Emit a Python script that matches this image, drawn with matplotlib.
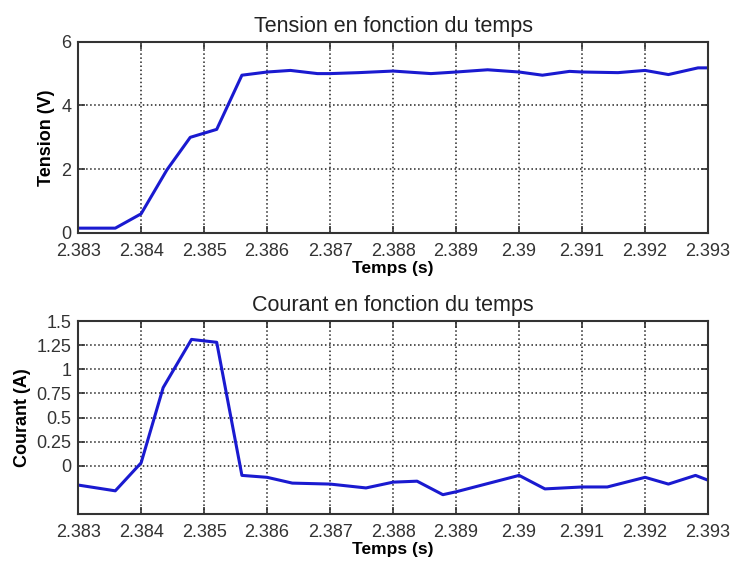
import matplotlib
matplotlib.use("Agg")
import matplotlib.pyplot as plt
import numpy as np

plt.rcParams['font.family'] = ['Liberation Sans', 'DejaVu Sans']

# Tension data
t_v = [2.3830, 2.38359, 2.3840, 2.38441, 2.38478, 2.3852, 2.3856, 2.3860, 2.38637,
       2.3868, 2.3870, 2.38745, 2.3880, 2.3886, 2.3890, 2.3895, 2.3900, 2.39037,
       2.3908, 2.3910, 2.39157, 2.3920, 2.39237, 2.39284, 2.3930]
v = [0.15, 0.15, 0.6, 1.98, 3.0, 3.25, 4.95, 5.05, 5.1,
     5.0, 5.0, 5.03, 5.08, 5.0, 5.05, 5.12, 5.05, 4.95,
     5.07, 5.05, 5.03, 5.1, 4.97, 5.18, 5.18]

# Courant data
t_i = [2.3830, 2.38359, 2.3840, 2.38435, 2.3848, 2.3852, 2.3856, 2.3860, 2.3864,
       2.3870, 2.38757, 2.3880, 2.38838, 2.38879, 2.3890, 2.3900, 2.39041,
       2.3910, 2.3914, 2.3920, 2.39237, 2.3928, 2.3930]
i_vals = [-0.2, -0.26, 0.03, 0.81, 1.31, 1.28, -0.1, -0.12, -0.18,
          -0.19, -0.23, -0.17, -0.16, -0.30, -0.27, -0.1, -0.24,
          -0.22, -0.22, -0.12, -0.19, -0.10, -0.15]

x_ticks = [2.383, 2.384, 2.385, 2.386, 2.387, 2.388, 2.389, 2.39, 2.391, 2.392, 2.393]
x_labels = ['2.383', '2.384', '2.385', '2.386', '2.387', '2.388', '2.389', '2.39',
            '2.391', '2.392', '2.393']
v_ticks = [0, 2, 4, 6]
i_ticks = [0, 0.25, 0.5, 0.75, 1, 1.25, 1.5]
i_labels = ['0', '0.25', '0.5', '0.75', '1', '1.25', '1.5']

fig = plt.figure(figsize=(7.3, 5.64), dpi=100)
ax1 = fig.add_axes([0.107, 0.587, 0.863, 0.339])
ax2 = fig.add_axes([0.107, 0.0887, 0.863, 0.342])

line_color = '#1a1ad0'

def style(ax):
    ax.set_xlim(2.383, 2.393)
    ax.set_xticks(x_ticks)
    ax.set_xticklabels(x_labels)
    ax.tick_params(direction='in', top=True, right=True, labelsize=13,
                   length=5, width=1.2, colors='#333333', pad=7)
    ax.tick_params(axis='y', pad=5)
    ax.grid(True, linestyle=':', color='#222222', linewidth=1.1)
    for s in ax.spines.values():
        s.set_linewidth(1.5)
        s.set_color('#333333')
    ax.set_xlabel('Temps (s)', fontweight='bold', fontsize=12.5, labelpad=1)

ax1.plot(t_v, v, color=line_color, linewidth=2.2)
style(ax1)
ax1.set_ylim(0, 6)
ax1.set_yticks(v_ticks)
ax1.set_title('Tension en fonction du temps', fontsize=15.5, pad=7, color='#222222')
ax1.set_ylabel('Tension (V)', fontweight='bold', fontsize=13, labelpad=4)

ax2.plot(t_i, i_vals, color=line_color, linewidth=2.2)
style(ax2)
ax2.set_ylim(-0.5, 1.5)
ax2.set_yticks(i_ticks)
ax2.set_yticklabels(i_labels)
ax2.set_title('Courant en fonction du temps', fontsize=15.5, pad=7, color='#222222')
ax2.set_ylabel('Courant (A)', fontweight='bold', fontsize=13, labelpad=4)

fig.savefig('out.png', dpi=100)
